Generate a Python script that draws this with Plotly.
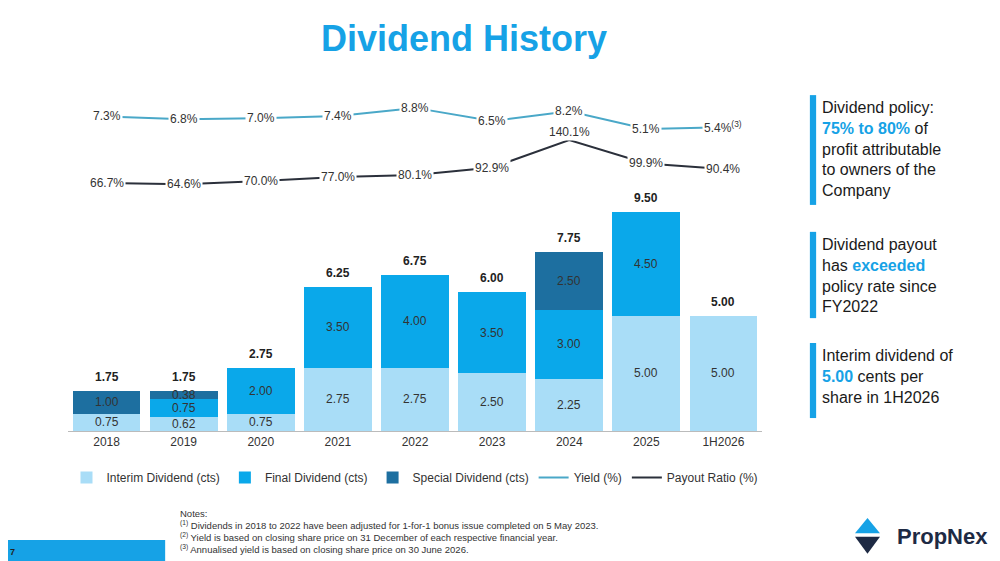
import plotly.graph_objects as go

years = ['2018', '2019', '2020', '2021', '2022', '2023', '2024', '2025', '1H2026']
interim = [0.75, 0.62, 0.75, 2.75, 2.75, 2.50, 2.25, 5.00, 5.00]
final = [0.00, 0.75, 2.00, 3.50, 4.00, 3.50, 3.00, 4.50, 0.00]
special = [1.00, 0.38, 0.00, 0.00, 0.00, 0.00, 2.50, 0.00, 0.00]
totals = [1.75, 1.75, 2.75, 6.25, 6.75, 6.00, 7.75, 9.50, 5.00]
yield_pct = [7.3, 6.8, 7.0, 7.4, 8.8, 6.5, 8.2, 5.1, 5.4]
payout_pct = [66.7, 64.6, 70.0, 77.0, 80.1, 92.9, 140.1, 99.9, 90.4]
xs = list(range(len(years)))

c_interim = '#A9DDF7'
c_final = '#0AA8EA'
c_special = '#1D6FA0'
c_yield = '#4AA8C8'
c_payout = '#2B303B'
blue = '#16A2E6'
font = 'Liberation Sans'

fig = go.Figure()
for name, vals, col in [('Interim Dividend (cts)', interim, c_interim),
                        ('Final Dividend (cts)', final, c_final),
                        ('Special Dividend (cts)', special, c_special)]:
    fig.add_trace(go.Bar(x=xs, y=vals, name=name, marker_color=col,
                         marker_line_width=0, hoverinfo='skip'))

fig.add_trace(go.Scatter(x=xs, y=yield_pct, name='Yield (%)', mode='lines',
                         line=dict(color=c_yield, width=2), yaxis='y3'))
fig.add_trace(go.Scatter(x=xs, y=payout_pct, name='Payout Ratio (%)', mode='lines',
                         line=dict(color=c_payout, width=2), yaxis='y2'))

ann = []
# segment labels and totals
for i in xs:
    base = 0
    for v in (interim[i], final[i], special[i]):
        if v > 0:
            ann.append(dict(x=i, y=base + v / 2, text=f'{v:.2f}', showarrow=False,
                            font=dict(size=12, color='#333')))
        base += v
    ann.append(dict(x=i, y=totals[i], text=f'<b>{totals[i]:.2f}</b>', showarrow=False,
                    yshift=14, font=dict(size=12, color='#222')))
# line labels
for i in xs:
    t = f'{yield_pct[i]:.1f}%' + ('<sup>(3)</sup>' if years[i] == '1H2026' else '')
    ann.append(dict(x=i, y=yield_pct[i], yref='y3', text=t, showarrow=False,
                    bgcolor='white', font=dict(size=12, color='#333')))
    ann.append(dict(x=i, y=payout_pct[i], yref='y2', text=f'{payout_pct[i]:.1f}%',
                    showarrow=False, bgcolor='white', font=dict(size=12, color='#333'),
                    yshift=8 if years[i] == '2024' else 0))

# title and side text
ann.append(dict(xref='paper', yref='paper', x=0.57, y=1.216, text='<b>Dividend History</b>',
                showarrow=False, font=dict(size=36, color=blue)))
side = [
    (0.98, 'Dividend policy:<br><b><span style="color:%s">75%% to 80%%</span></b> of<br>profit attributable<br>to owners of the<br>Company' % blue),
    (0.578, 'Dividend payout<br>has <b><span style="color:%s">exceeded</span></b><br>policy rate since<br>FY2022' % blue),
    (0.252, 'Interim dividend of<br><b><span style="color:%s">5.00</span></b> cents per<br>share in 1H2026' % blue),
]
for yy, t in side:
    ann.append(dict(xref='paper', yref='paper', x=1.084, y=yy, xanchor='left', yanchor='top',
                    text=t, align='left', showarrow=False,
                    font=dict(size=16, color='#1a1a1a')))
notes = ['Notes:',
         '<sup>(1)</sup> Dividends in 2018 to 2022 have been adjusted for 1-for-1 bonus issue completed on 5 May 2023.',
         '<sup>(2)</sup> Yield is based on closing share price on 31 December of each respective financial year.',
         '<sup>(3)</sup> Annualised yield is based on closing share price on 30 June 2026.']
for k, t in enumerate(notes):
    ann.append(dict(xref='paper', yref='paper', x=0.158, y=(431 - 513 - 12 * k) / 341,
                    xanchor='left', yanchor='middle', text=t, align='left', showarrow=False,
                    font=dict(size=9.5, color='#333')))
ann.append(dict(xref='paper', yref='paper', x=-0.086, y=-0.355, xanchor='left', yanchor='middle',
                text='<b>7</b>', showarrow=False, font=dict(size=9, color='#222')))
ann.append(dict(xref='paper', yref='paper', x=1.329, y=-0.31, xanchor='right', yanchor='middle',
                text='<b>PropNex</b>', showarrow=False, font=dict(size=22, color='#1e2a44')))

shapes = [
    dict(type='rect', xref='paper', yref='paper', x0=-0.12, x1=0.14, y0=-0.42, y1=-0.32,
         fillcolor=blue, line_width=0, layer='below'),
    dict(type='rect', xref='paper', yref='paper', x0=1.069, x1=1.078, y0=0.663, y1=0.985,
         fillcolor=blue, line_width=0),
    dict(type='rect', xref='paper', yref='paper', x0=1.069, x1=1.078, y0=0.331, y1=0.584,
         fillcolor=blue, line_width=0),
    dict(type='rect', xref='paper', yref='paper', x0=1.069, x1=1.078, y0=0.038, y1=0.258,
         fillcolor=blue, line_width=0),
    dict(type='path', xref='paper', yref='paper',
         path='M 1.152,-0.255 L 1.134,-0.300 L 1.170,-0.300 Z', fillcolor=blue, line_width=0),
    dict(type='path', xref='paper', yref='paper',
         path='M 1.134,-0.310 L 1.170,-0.310 L 1.152,-0.360 Z', fillcolor='#1e2a44', line_width=0),
]

fig.update_layout(
    width=1000, height=561, barmode='stack', bargap=0.12,
    paper_bgcolor='white', plot_bgcolor='white',
    margin=dict(l=60, r=246, t=82, b=138),
    font=dict(family=font, size=12, color='#333'),
    xaxis=dict(range=[-0.5, 8.5], tickvals=xs, ticktext=years, showline=True, linecolor='#bbb',
               ticks='', tickfont=dict(size=12, color='#333'), showgrid=False,
               zeroline=False, automargin=False),
    yaxis=dict(domain=[0, 0.677], range=[0, 10.0], visible=False),
    yaxis2=dict(domain=[0.677, 0.971], range=[37.2, 208.7], visible=False, anchor='x'),
    yaxis3=dict(overlaying='y2', range=[-7.34, 10.2], visible=False, anchor='x'),
    legend=dict(orientation='h', x=0.5, xanchor='center', y=-0.094, yanchor='top',
                font=dict(size=12, color='#333'), traceorder='normal',
                itemwidth=30, tracegroupgap=0),
    annotations=ann, shapes=shapes, showlegend=True,
)

fig.write_html('out.html')
